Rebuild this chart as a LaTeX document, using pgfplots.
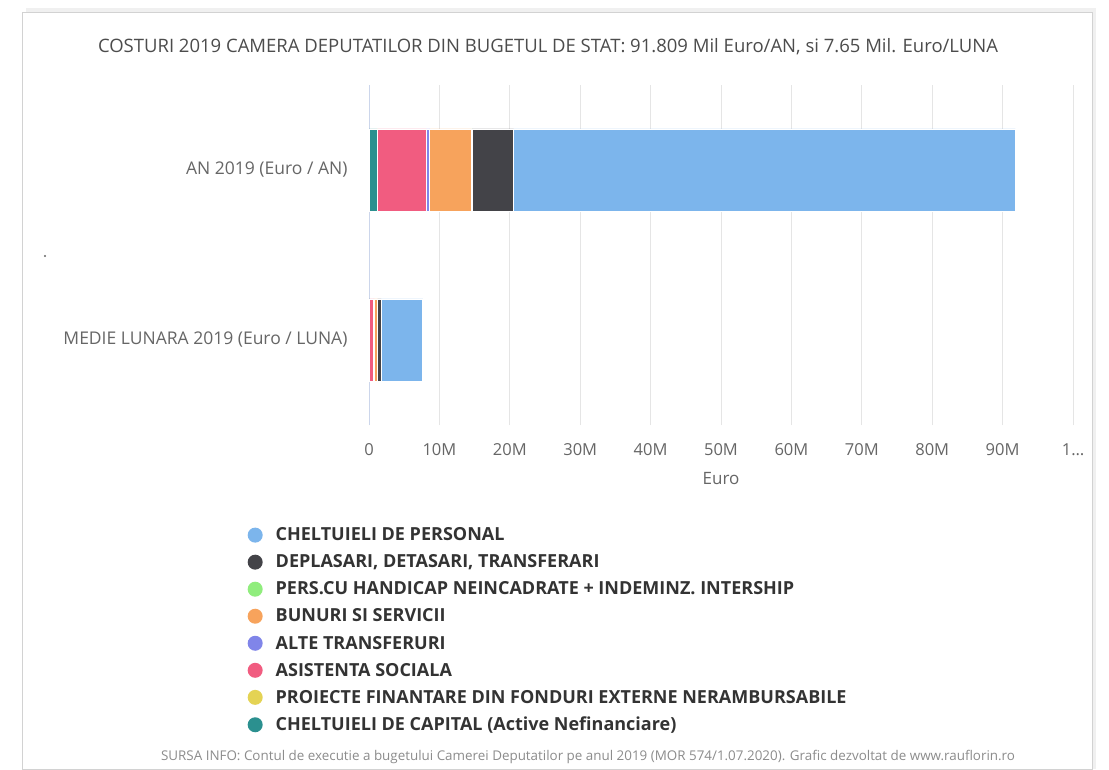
\documentclass[border=0pt]{standalone}
\usepackage{pgfplots}
\pgfplotsset{compat=1.18}
\usepackage{fontspec}
\setmainfont{Open Sans}
\definecolor{cpers}{HTML}{7CB5EC}
\definecolor{cdepl}{HTML}{434348}
\definecolor{chand}{HTML}{90ED7D}
\definecolor{cbun}{HTML}{F7A35C}
\definecolor{calte}{HTML}{8085E9}
\definecolor{casis}{HTML}{F15C80}
\definecolor{cproi}{HTML}{E4D354}
\definecolor{ccap}{HTML}{2B908F}
\definecolor{txtgray}{HTML}{666666}
\begin{document}
\begin{tikzpicture}
\path[use as bounding box] (0,0) rectangle (1109pt,769pt);
% card frame
\fill[gray!12] (26pt,0pt) rectangle (1096pt,761pt);
\fill[white,draw=gray!35] (22pt,0pt) rectangle (1092pt,757pt);
\node[text=black!70, font=\fontsize{18.5}{18.5}\selectfont] at (548pt,722pt)
  {COSTURI 2019 CAMERA DEPUTATILOR DIN BUGETUL DE STAT: 91.809 Mil Euro/AN, si 7.65 Mil. Euro/LUNA};
\node[text=black!45, font=\fontsize{13.4}{13.4}\selectfont] at (588pt,12pt)
  {SURSA INFO: Contul de executie a bugetului Camerei Deputatilor pe anul 2019 (MOR 574/1.07.2020). Grafic dezvoltat de www.rauflorin.ro};
\fill[black!60] (45pt,513pt) circle (1.2pt);
\begin{axis}[
  at={(369pt,344pt)}, anchor=south west,
  scale only axis, width=704pt, height=340pt,
  xbar stacked, bar width=82pt,
  xmin=0, xmax=100, ymin=-0.5, ymax=1.5,
  xtick={0,10,...,100},
  xticklabels={0,10M,20M,30M,40M,50M,60M,70M,80M,90M,1\ldots},
  ytick={0,1},
  yticklabels={MEDIE LUNARA 2019 (Euro / LUNA), AN 2019 (Euro / AN)},
  major tick length=0pt,
  xmajorgrids, grid style={color=black!10, line width=0.8pt},
  axis lines*=left,
  x axis line style={draw=none},
  y axis line style={draw={rgb,255:red,204;green,214;blue,235}, line width=0.8pt},
  tick label style={text=txtgray, font=\fontsize{16.5}{16.5}\selectfont},
  yticklabel style={xshift=-18pt, font=\fontsize{17.5}{17.5}\selectfont},
  xticklabel style={yshift=-15pt},
  xlabel={Euro},
  xlabel style={text=txtgray, font=\fontsize{17}{17}\selectfont, yshift=-10pt},
  every axis plot/.append style={draw=white, line width=0.8pt},
  reverse legend,
  legend cell align=left,
  legend style={at={(-0.1726,-0.296)}, anchor=north west, draw=none, fill=none,
    font=\bfseries\fontsize{18}{18}\selectfont, text=black!80,
    row sep=8.5pt, inner sep=0pt},
  legend image code/.code={\fill[#1, draw=none] (7.5pt,0pt) circle (7.5pt);
    \path[draw=none, fill=none] (0pt,0pt) -- (26pt,0pt);},
]
\addplot[fill=ccap] coordinates {(1.2,1) (0.10,0)};
\addplot[fill=cproi] coordinates {(0.05,1) (0.004,0)};
\addplot[fill=casis] coordinates {(6.9,1) (0.575,0)};
\addplot[fill=calte] coordinates {(0.5,1) (0.042,0)};
\addplot[fill=cbun] coordinates {(5.9,1) (0.49,0)};
\addplot[fill=chand] coordinates {(0.1,1) (0.008,0)};
\addplot[fill=cdepl] coordinates {(5.9,1) (0.49,0)};
\addplot[fill=cpers] coordinates {(71.25,1) (5.94,0)};
\legend{CHELTUIELI DE CAPITAL (Active Nefinanciare),
  PROIECTE FINANTARE DIN FONDURI EXTERNE NERAMBURSABILE,
  ASISTENTA SOCIALA, ALTE TRANSFERURI, BUNURI SI SERVICII,
  PERS.CU HANDICAP NEINCADRATE + INDEMINZ. INTERSHIP,
  DEPLASARI{,} DETASARI{,} TRANSFERARI, CHELTUIELI DE PERSONAL}
\end{axis}
\end{tikzpicture}
\end{document}
